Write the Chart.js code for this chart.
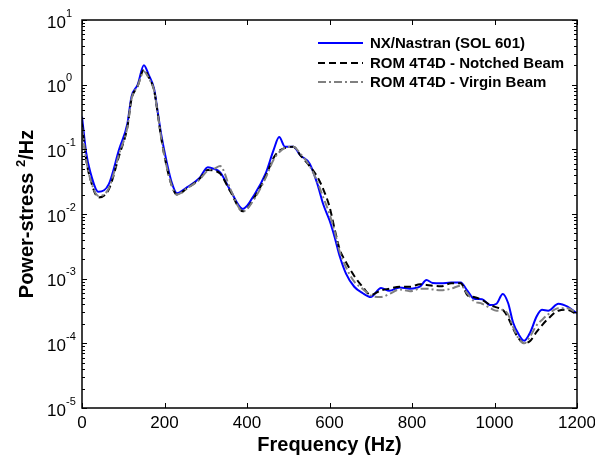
<!DOCTYPE html>
<html>
<head>
<meta charset="utf-8">
<script src="https://cdn.jsdelivr.net/npm/chart.js@4"></script>
<style>
  body { margin: 0; background: #fff; }
  #wrap { width: 595px; height: 460px; }
</style>
</head>
<body>
<div id="wrap"><canvas id="myChart" width="595" height="460"></canvas></div>
<script>
"use strict";

const frequenze = [0, 10, 20, 40, 65, 90, 110, 120, 135, 150, 162, 175, 183, 192, 205, 218, 230, 255, 285, 305,
  320, 335, 360, 390, 420, 445, 465, 478, 492, 512, 530, 552, 570, 585, 600, 612, 625, 640, 660, 680,
  700, 725, 745, 770, 795, 820, 835, 850, 870, 895, 918, 935, 950, 970, 990, 1005, 1020, 1033, 1045, 1058,
  1072, 1087, 1102, 1115, 1130, 1155, 1177, 1200];

const nastran = [0.32, 0.09, 0.045, 0.022, 0.029, 0.10, 0.25, 0.65, 1.0, 2.0, 1.4, 0.85, 0.4, 0.17, 0.065, 0.03, 0.021, 0.026, 0.036, 0.053,
  0.05, 0.044, 0.023, 0.012, 0.021, 0.042, 0.1, 0.155, 0.11, 0.11, 0.08, 0.06, 0.03, 0.014, 0.008, 0.0045, 0.0022, 0.0012, 0.00075, 0.0006,
  0.00052, 0.00072, 0.00065, 0.00073, 0.0007, 0.00076, 0.00095, 0.00086, 0.00085, 0.00087, 0.00087, 0.00064, 0.00049, 0.00048, 0.00039, 0.00041, 0.00058, 0.00042, 0.00021, 0.00014,
  0.00011, 0.00015, 0.00026, 0.00033, 0.00032, 0.00041, 0.00037, 0.00029];

const romNotched = [0.25, 0.07, 0.035, 0.018, 0.024, 0.08, 0.22, 0.6, 0.95, 1.7, 1.3, 0.8, 0.38, 0.15, 0.055, 0.027, 0.02, 0.025, 0.035, 0.048,
  0.047, 0.042, 0.022, 0.011, 0.019, 0.038, 0.075, 0.095, 0.105, 0.11, 0.08, 0.055, 0.038, 0.024, 0.013, 0.006, 0.0028, 0.0018, 0.0011, 0.00075,
  0.00056, 0.00066, 0.0007, 0.00075, 0.00075, 0.00082, 0.0008, 0.00078, 0.00076, 0.00085, 0.00085, 0.00055, 0.00052, 0.00047, 0.00039, 0.00036, 0.00033, 0.00025, 0.00017, 0.00012,
  0.0001, 0.00011, 0.00015, 0.00019, 0.00024, 0.00032, 0.00033, 0.00028];

const romVirgin = [0.22, 0.07, 0.035, 0.019, 0.025, 0.085, 0.22, 0.6, 0.95, 1.6, 1.25, 0.8, 0.38, 0.15, 0.055, 0.027, 0.02, 0.025, 0.034, 0.047,
  0.05, 0.055, 0.024, 0.011, 0.018, 0.036, 0.07, 0.09, 0.105, 0.11, 0.085, 0.055, 0.032, 0.018, 0.01, 0.0055, 0.0026, 0.0015, 0.0009, 0.0007,
  0.00055, 0.00052, 0.00058, 0.00068, 0.00064, 0.0007, 0.0007, 0.00068, 0.00066, 0.0007, 0.00078, 0.00058, 0.00045, 0.00041, 0.00035, 0.00032, 0.00033, 0.00028, 0.00018, 0.00012,
  0.0001, 0.00013, 0.00019, 0.00023, 0.00028, 0.00035, 0.00035, 0.00029];

const etichette = ["NX/Nastran (SOL 601)", "ROM 4T4D - Notched Beam", "ROM 4T4D - Virgin Beam"];
const xTicks = [0, 200, 400, 600, 800, 1000, 1200];
const yEsponenti = [-5, -4, -3, -2, -1, 0, 1];

const FONT = "'Liberation Sans', Arial, sans-serif";

function creaPunti(valori) {
    return frequenze.map((f, i) => ({ x: f, y: valori[i] }));
}

// titolo asse y con l'apice "2" disegnato a parte
function disegnaTitoloY(ctx, cx, cy) {
    const parti = [
        { t: "Power-stress ", f: `bold 20px ${FONT}`, dy: 0 },
        { t: "2", f: `bold 13px ${FONT}`, dy: -8 },
        { t: "/Hz", f: `bold 20px ${FONT}`, dy: 0 }
    ];
    let tot = 0;
    parti.forEach(p => { ctx.font = p.f; p.w = ctx.measureText(p.t).width; tot += p.w; });
    ctx.save();
    ctx.translate(cx, cy);
    ctx.rotate(-Math.PI / 2);
    ctx.textAlign = "left";
    ctx.textBaseline = "alphabetic";
    let x = -tot / 2;
    parti.forEach(p => {
        ctx.font = p.f;
        ctx.fillText(p.t, x, 7 + p.dy);
        x += p.w;
    });
    ctx.restore();
}

// cornice, tacche interne, etichette 10^n e legenda
const pluginAssi = {
    id: "pluginAssi",
    afterDatasetsDraw(chart) {
        const ctx = chart.ctx;
        const a = chart.chartArea;
        const sx = chart.scales.x;
        const sy = chart.scales.y;
        ctx.save();
        ctx.strokeStyle = "#000";
        ctx.lineWidth = 1.5;
        ctx.setLineDash([]);
        ctx.strokeRect(a.left, a.top, a.right - a.left, a.bottom - a.top);

        ctx.lineWidth = 1;
        ctx.beginPath();
        xTicks.forEach(v => {
            const px = Math.round(sx.getPixelForValue(v)) + 0.5;
            ctx.moveTo(px, a.bottom); ctx.lineTo(px, a.bottom - 5);
            ctx.moveTo(px, a.top); ctx.lineTo(px, a.top + 5);
        });
        yEsponenti.forEach(e => {
            for (let m = 1; m < 10; m++) {
                const v = m * Math.pow(10, e);
                if (v > sy.max * 1.0001) break;
                const py = Math.round(sy.getPixelForValue(v)) + 0.5;
                const l = m === 1 ? 5 : 3;
                ctx.moveTo(a.left, py); ctx.lineTo(a.left + l, py);
                ctx.moveTo(a.right, py); ctx.lineTo(a.right - l, py);
            }
        });
        ctx.stroke();

        ctx.fillStyle = "#000";
        yEsponenti.forEach(e => {
            const py = sy.getPixelForValue(Math.pow(10, e));
            ctx.font = `17px ${FONT}`;
            ctx.textAlign = "right";
            ctx.textBaseline = "alphabetic";
            ctx.fillText("10", 66, py + 7.5);
            ctx.font = `11px ${FONT}`;
            ctx.textAlign = "left";
            ctx.fillText(String(e), 66, py - 3.5);
        });

        disegnaTitoloY(ctx, 26, (a.top + a.bottom) / 2);

        const righe = [43, 63, 82];
        chart.data.datasets.forEach((ds, i) => {
            ctx.strokeStyle = ds.borderColor;
            ctx.lineWidth = 2;
            ctx.setLineDash(ds.borderDash || []);
            ctx.beginPath();
            ctx.moveTo(318, righe[i]);
            ctx.lineTo(363, righe[i]);
            ctx.stroke();
            ctx.setLineDash([]);
            ctx.font = `bold 15px ${FONT}`;
            ctx.textAlign = "left";
            ctx.textBaseline = "middle";
            ctx.fillStyle = "#000";
            ctx.fillText(ds.label, 370, righe[i] + 1);
        });
        ctx.restore();
    }
};

const ctx = document.getElementById("myChart");

new Chart(ctx, {
    type: "line",
    data: {
        datasets: [
            {
                label: etichette[0],
                data: creaPunti(nastran),
                borderColor: "#0000ff",
                borderWidth: 2,
                order: 2
            },
            {
                label: etichette[1],
                data: creaPunti(romNotched),
                borderColor: "#000000",
                borderWidth: 2,
                borderDash: [7, 4],
                order: 1
            },
            {
                label: etichette[2],
                data: creaPunti(romVirgin),
                borderColor: "#808080",
                borderWidth: 2,
                borderDash: [8, 3, 2, 3],
                order: 0
            }
        ]
    },
    options: {
        responsive: false,
        animation: false,
        events: [],
        layout: { padding: { top: 20, right: 18, left: 0, bottom: 0 } },
        elements: {
            point: { radius: 0 },
            line: { cubicInterpolationMode: "monotone", fill: false }
        },
        plugins: {
            legend: { display: false },
            tooltip: { enabled: false }
        },
        scales: {
            x: {
                type: "linear",
                min: 0,
                max: 1200,
                afterBuildTicks: s => { s.ticks = xTicks.map(v => ({ value: v })); },
                afterFit: s => { s.height = 52; s.paddingLeft = 0; s.paddingRight = 0; },
                grid: { display: false, drawTicks: false },
                border: { display: false },
                ticks: {
                    color: "#000",
                    font: { family: FONT, size: 17 },
                    padding: 5,
                    maxRotation: 0,
                    autoSkip: false,
                    callback: v => String(v)
                },
                title: {
                    display: true,
                    text: "Frequency (Hz)",
                    color: "#000",
                    font: { family: FONT, size: 20, weight: "bold" },
                    padding: { top: 0, bottom: 3 }
                }
            },
            y: {
                type: "logarithmic",
                min: 1e-5,
                max: 10,
                afterFit: s => { s.width = 82; s.paddingTop = 0; s.paddingBottom = 0; },
                grid: { display: false, drawTicks: false },
                border: { display: false },
                ticks: { display: false },
                title: { display: false }
            }
        }
    },
    plugins: [pluginAssi]
});
</script>
</body>
</html>
